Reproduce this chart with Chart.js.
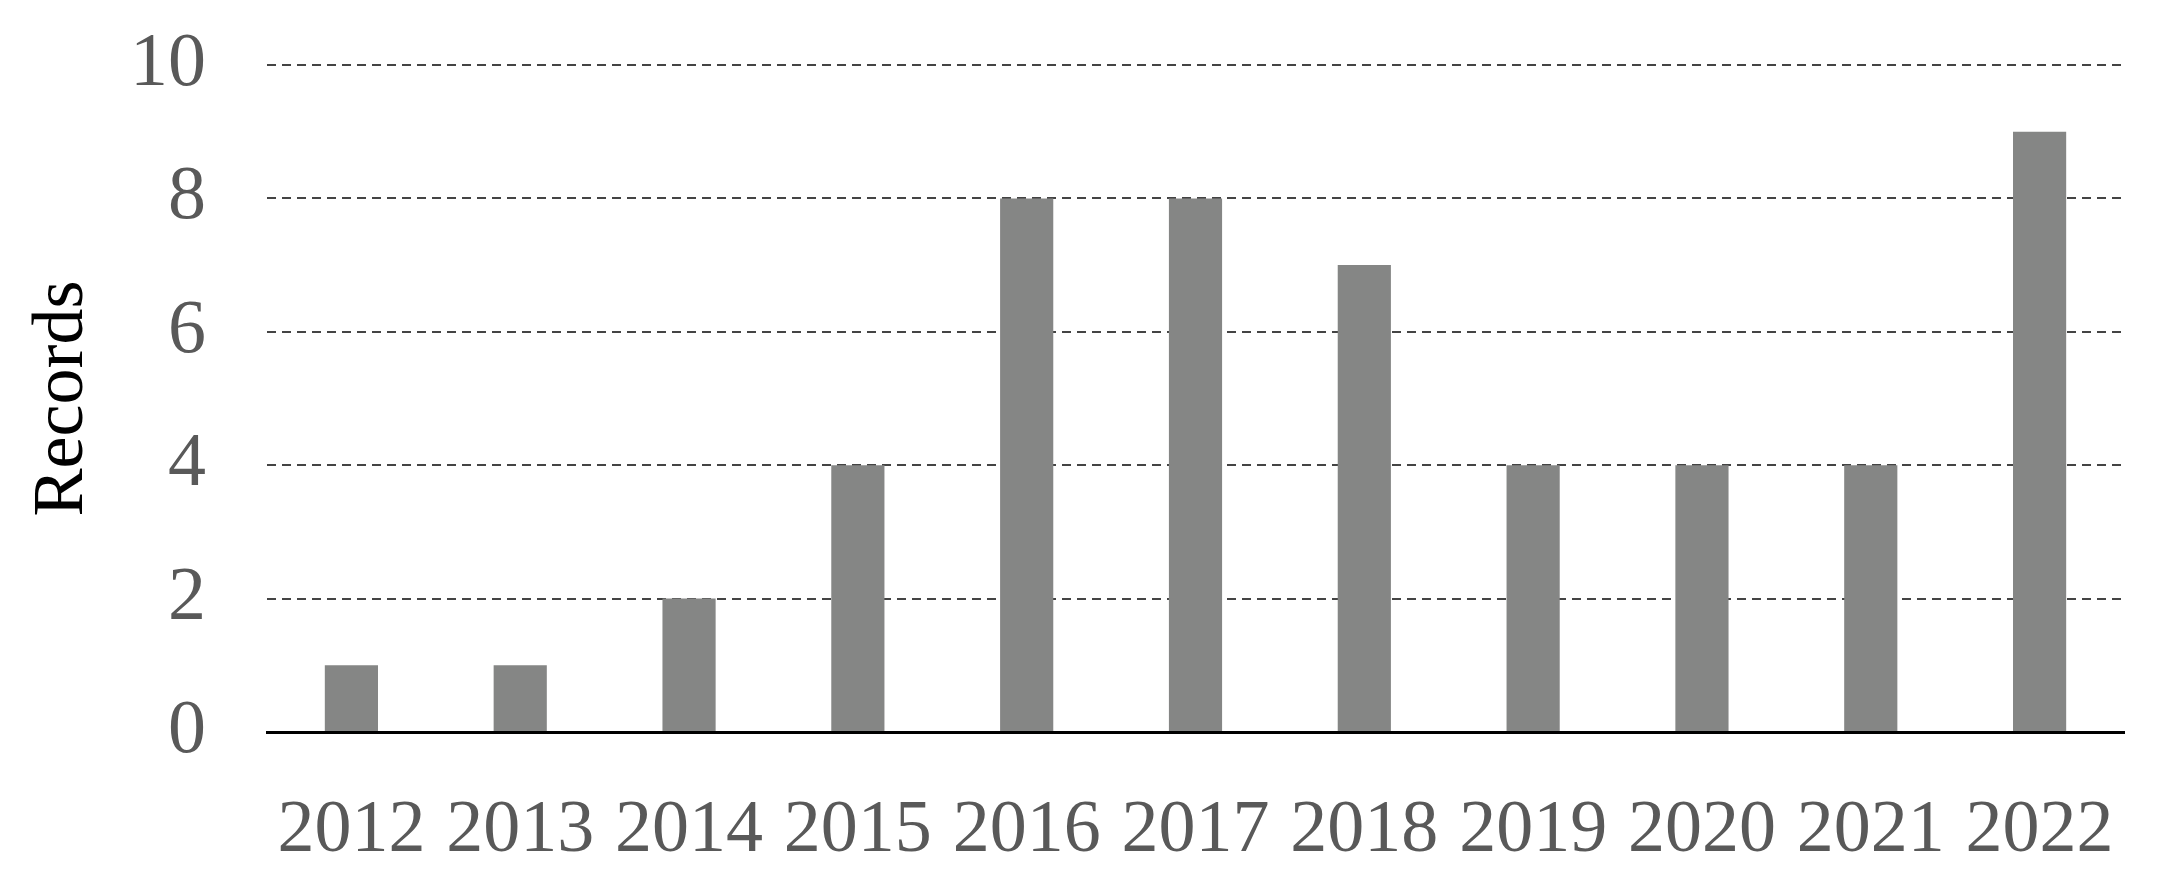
<!DOCTYPE html>
<html>
<head>
<meta charset="utf-8">
<style>
  html, body { margin: 0; padding: 0; background: #fff; }
  #wrap { width: 2177px; height: 890px; position: relative; }
</style>
<script src="https://cdn.jsdelivr.net/npm/chart.js@4.4.1/dist/chart.umd.min.js"></script>
</head>
<body>
<div id="wrap"><canvas id="c" width="2177" height="890"></canvas></div>
<script>
const years = ['2012','2013','2014','2015','2016','2017','2018','2019','2020','2021','2022'];
const records = [1, 1, 2, 4, 8, 8, 7, 4, 4, 4, 9];
const yTicks = [0, 2, 4, 6, 8, 10];
const yTitle = 'Records';

const FONT = '"Liberation Serif", "Times New Roman", serif';

new Chart(document.getElementById('c'), {
  type: 'bar',
  data: {
    labels: years,
    datasets: [{
      data: records,
      backgroundColor: '#858685',
      borderWidth: 0,
      barPercentage: 0.315,
      categoryPercentage: 1.0
    }]
  },
  options: {
    responsive: false,
    animation: false,
    devicePixelRatio: 1,
    layout: { padding: { left: 0, right: 53, top: 65, bottom: 0 } },
    plugins: { legend: { display: false }, tooltip: { enabled: false } },
    scales: {
      x: {
        grid: { display: false, drawTicks: false },
        border: { display: true, color: '#000', width: 3 },
        ticks: {
          color: '#595959',
          font: { family: FONT, size: 74 },
          padding: 55,
          maxRotation: 0,
          autoSkip: false
        },
        afterFit: (s) => { s.height = 890 - 732; }
      },
      y: {
        min: 0, max: 10,
        afterBuildTicks: (s) => { s.ticks = yTicks.map(v => ({ value: v })); },
        grid: {
          drawTicks: false,
          color: (ctx) => ctx.tick && ctx.tick.value === 0 ? 'rgba(0,0,0,0)' : '#444',
          lineWidth: 2
        },
        border: { display: false, dash: [9, 6] },
        ticks: {
          color: '#595959',
          font: { family: FONT, size: 76 },
          padding: 61
        },
        title: {
          display: true,
          text: yTitle,
          color: '#000',
          font: { family: FONT, size: 72 },
          padding: { top: 20, bottom: 0 }
        },
        afterFit: (s) => { s.width = 267; s.paddingTop = 0; s.paddingBottom = 0; }
      }
    }
  }
});
</script>
</body>
</html>
